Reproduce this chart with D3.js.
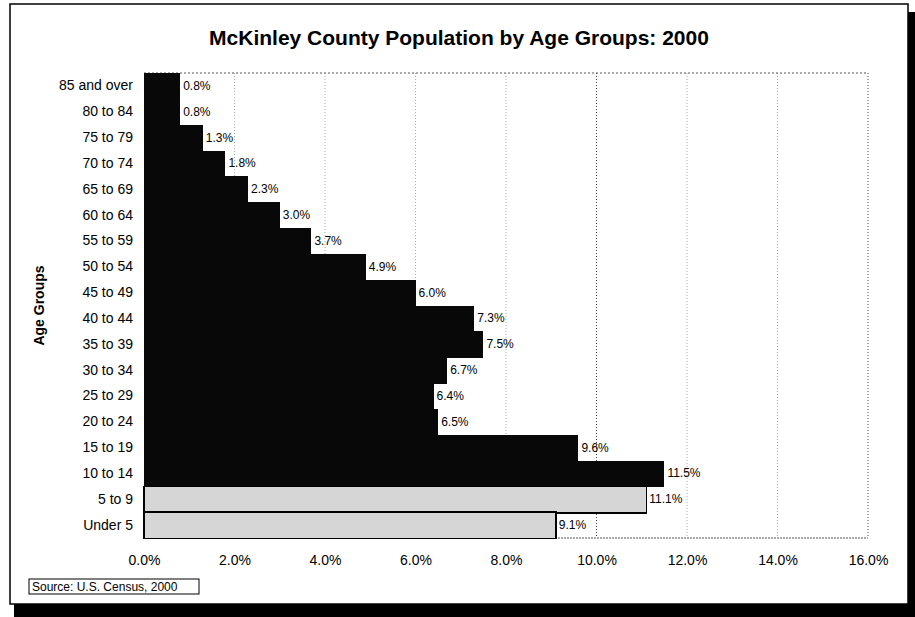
<!DOCTYPE html>
<html>
<head>
<meta charset="utf-8">
<script src="https://cdn.jsdelivr.net/npm/d3@7"></script>
<style>
  body { margin: 0; background: #fff; }
  svg { display: block; font-family: Arial, "Liberation Sans", sans-serif; }
</style>
</head>
<body>
<svg id="chart" width="915" height="617"></svg>
<script>
// age groups, top to bottom as drawn
const ageGroups = ["85 and over", "80 to 84", "75 to 79", "70 to 74", "65 to 69", "60 to 64",
  "55 to 59", "50 to 54", "45 to 49", "40 to 44", "35 to 39", "30 to 34", "25 to 29",
  "20 to 24", "15 to 19", "10 to 14", "5 to 9", "Under 5"];
const percents = [0.8, 0.8, 1.3, 1.8, 2.3, 3.0, 3.7, 4.9, 6.0, 7.3, 7.5, 6.7, 6.4, 6.5, 9.6, 11.5, 11.1, 9.1];
const lightGroups = ["5 to 9", "Under 5"];
const xTicks = [0, 2, 4, 6, 8, 10, 12, 14, 16];

const data = ageGroups.map((g, i) => ({ group: g, value: percents[i] }));

const svg = d3.select("#chart");
const margin = {top: 73, left: 144, right: 47, bottom: 79};
const width = 915 - margin.left - margin.right,
    height = 617 - margin.top - margin.bottom;

// drop shadow + frame
svg.append("rect").attr("x", 14).attr("y", 12).attr("width", 901).attr("height", 605).attr("fill", "#000");
svg.append("rect").attr("x", 10).attr("y", 4).attr("width", 898).attr("height", 600)
    .attr("fill", "#fff").attr("stroke", "#000").attr("stroke-width", 1.5);

svg.append("text")
    .attr("x", 459).attr("y", 45)
    .attr("text-anchor", "middle")
    .style("font-size", "21px").style("font-weight", "bold")
    .text("McKinley County Population by Age Groups: 2000");

const g = svg.append("g").attr("transform", `translate(${margin.left},${margin.top})`);

const x = d3.scaleLinear().domain([0, 16]).range([0, width]);
const y = d3.scaleBand().domain(ageGroups).range([0, height]).padding(0);

// dotted gridlines + plot border
g.selectAll("line.grid")
    .data(xTicks.slice(1))
    .enter().append("line")
    .attr("class", "grid")
    .attr("x1", d => x(d)).attr("x2", d => x(d))
    .attr("y1", 0).attr("y2", height)
    .attr("stroke", d => (d === 10 || d === 16) ? "#444" : "#aaa")
    .attr("stroke-width", 1).attr("stroke-dasharray", "1,2");
g.append("line").attr("x1", 0).attr("x2", width).attr("y1", 0).attr("y2", 0)
    .attr("stroke", "#555").attr("stroke-dasharray", "2,2");
g.append("line").attr("x1", 0).attr("x2", width).attr("y1", height).attr("y2", height)
    .attr("stroke", "#555").attr("stroke-dasharray", "2,1");

g.selectAll("rect.bar")
    .data(data)
    .enter().append("rect")
    .attr("class", "bar")
    .attr("x", 0)
    .attr("y", d => y(d.group))
    .attr("width", d => x(d.value))
    .attr("height", y.bandwidth() + 0.6)
    .attr("shape-rendering", "crispEdges")
    .attr("fill", d => lightGroups.includes(d.group) ? "#d6d6d6" : "#080808")
    .attr("stroke", d => lightGroups.includes(d.group) ? "#000" : "none")
    .attr("stroke-width", 1.5);

g.selectAll("text.val")
    .data(data)
    .enter().append("text")
    .attr("class", "val")
    .attr("x", d => x(d.value) + 3)
    .attr("y", d => y(d.group) + y.bandwidth() / 2 + 4)
    .style("font-size", "12px")
    .text(d => d.value.toFixed(1) + "%");

const yAxis = g.append("g")
    .call(d3.axisLeft(y).tickSize(0).tickPadding(11));
yAxis.select(".domain").remove();
yAxis.selectAll("text").style("font-size", "14px").style("font-family", "Arial, 'Liberation Sans', sans-serif");

const xAxis = g.append("g")
    .attr("transform", `translate(0,${height})`)
    .call(d3.axisBottom(x).tickValues(xTicks).tickSize(0).tickPadding(17).tickFormat(d => d.toFixed(1) + "%"));
xAxis.select(".domain").remove();
xAxis.selectAll("text").style("font-size", "14px").style("font-family", "Arial, 'Liberation Sans', sans-serif");

svg.append("text")
    .attr("transform", `translate(44,${margin.top + height / 2}) rotate(-90)`)
    .attr("text-anchor", "middle")
    .style("font-size", "14px").style("font-weight", "bold")
    .text("Age Groups");

// source note
svg.append("rect").attr("x", 29).attr("y", 579).attr("width", 170).attr("height", 15)
    .attr("fill", "#fff").attr("stroke", "#000").attr("stroke-width", 1);
svg.append("text").attr("x", 32).attr("y", 591)
    .style("font-size", "12px")
    .text("Source: U.S. Census, 2000");
</script>
</body>
</html>
